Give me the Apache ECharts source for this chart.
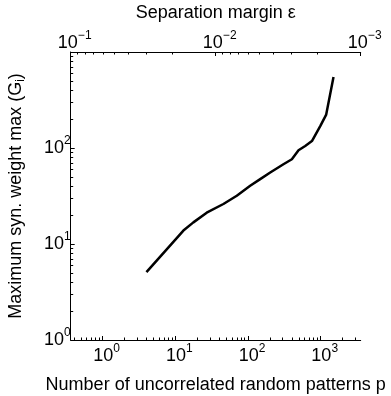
<!DOCTYPE html>
<html><head><meta charset="utf-8">
<script src="https://cdn.jsdelivr.net/npm/echarts@6/dist/echarts.min.js"></script>
<style>html,body{margin:0;padding:0;background:#fff}#c{width:391px;height:396px}</style>
</head><body><div id="c"></div>
<script>
// Data
const pValues = [4, 12.9, 17.7, 27, 45.8, 70, 107, 147, 202, 307, 401, 495, 612, 757, 985, 1190, 1500];
const gMax    = [5.1, 13.8, 16.8, 21.2, 26.1, 31.8, 40.4, 47.4, 55.5, 67.8, 76.4, 94.7, 105, 118, 169, 223, 548];
const xTickLabels = [1, 10, 100, 1000];
const yTickLabels = [1, 10, 100];
const epsTickLabels = [0.1, 0.01, 0.001];
const xRange = [0.363, 3550];
const yRange = [1, 1000];
const epsRange = [0.001, 0.1];

function minorTicks(lo, hi) {
  const out = [];
  for (let e = Math.floor(Math.log10(lo)) ; e <= Math.ceil(Math.log10(hi)); e++) {
    for (let m = 2; m <= 9; m++) {
      const v = m * Math.pow(10, e);
      if (v > lo * 1.0001 && v < hi * 0.9999) out.push(v);
    }
  }
  return out;
}
function expLabel(v) {
  const e = Math.round(Math.log10(v));
  return '{b|10}{s|' + (e < 0 ? '\u2212' + (-e) : e) + '}';
}
const FONT = 'Liberation Sans, Arial, Helvetica, sans-serif';
const richX = {
  b: { fontSize: 18, fontFamily: FONT, color: '#000', padding: [0, 0, 0, 8] },
  s: { fontSize: 12, fontFamily: FONT, color: '#000', padding: [0, 0, 15, 0] }
};
const richY = {
  b: { fontSize: 18, fontFamily: FONT, color: '#000' },
  s: { fontSize: 12, fontFamily: FONT, color: '#000', padding: [0, 0, 15, 0] }
};
const lineStyle = { color: '#000', width: 1 };

const chart = echarts.init(document.getElementById('c'), null, { renderer: 'canvas' });
chart.setOption({
  animation: false,
  backgroundColor: '#fff',
  grid: { left: 70.7, right: 30.3, top: 52, bottom: 56, containLabel: false, outerBoundsMode: 'none' },
  xAxis: [
    { // bottom main axis
      type: 'log', logBase: 10, position: 'bottom', min: xRange[0], max: xRange[1],
      name: 'Number of uncorrelated random patterns p', nameLocation: 'middle', nameGap: 36,
      nameTextStyle: { fontSize: 18, fontFamily: FONT, color: '#000' },
      axisLine: { show: true, onZero: false, lineStyle },
      axisTick: { show: true, inside: true, length: 4, customValues: xTickLabels, lineStyle },
      axisLabel: { show: true, customValues: xTickLabels, margin: 3, formatter: expLabel, rich: richX },
      splitLine: { show: false }
    },
    { // top epsilon axis
      type: 'log', logBase: 10, position: 'top', inverse: true, min: epsRange[0], max: epsRange[1],
      name: 'Separation margin \u03b5', nameLocation: 'middle', nameGap: 30,
      nameTextStyle: { fontSize: 18, fontFamily: FONT, color: '#000' },
      axisLine: { show: true, onZero: false, lineStyle },
      axisTick: { show: true, inside: true, length: 4, customValues: epsTickLabels, lineStyle },
      axisLabel: { show: true, customValues: epsTickLabels, margin: -5, formatter: expLabel, rich: richX },
      splitLine: { show: false }
    },
    { // bottom minor ticks
      type: 'log', logBase: 10, position: 'bottom', min: xRange[0], max: xRange[1],
      axisLine: { show: false, onZero: false },
      axisTick: { show: true, inside: true, length: 2.5, customValues: minorTicks(xRange[0], xRange[1]), lineStyle },
      axisLabel: { show: false }, splitLine: { show: false }
    },
    { // top minor ticks
      type: 'log', logBase: 10, position: 'top', inverse: true, min: epsRange[0], max: epsRange[1],
      axisLine: { show: false, onZero: false },
      axisTick: { show: true, inside: true, length: 2.5, customValues: minorTicks(epsRange[0], epsRange[1]), lineStyle },
      axisLabel: { show: false }, splitLine: { show: false }
    }
  ],
  yAxis: [
    {
      type: 'log', logBase: 10, position: 'left', min: yRange[0], max: yRange[1],
      name: 'Maximum syn. weight max (G{sub|i})', nameLocation: 'middle', nameGap: 44, nameRotate: 90,
      nameTextStyle: { fontSize: 18, fontFamily: FONT, color: '#000',
        rich: { sub: { fontSize: 12, fontFamily: FONT, color: '#000', padding: [10, 0, 0, 0] } } },
      axisLine: { show: true, onZero: false, lineStyle },
      axisTick: { show: true, inside: true, length: 4, customValues: yTickLabels, lineStyle },
      axisLabel: { show: true, customValues: yTickLabels, margin: 0, formatter: expLabel, rich: richY },
      splitLine: { show: false }
    },
    {
      type: 'log', logBase: 10, position: 'left', min: yRange[0], max: yRange[1],
      axisLine: { show: false, onZero: false },
      axisTick: { show: true, inside: true, length: 2.5, customValues: minorTicks(yRange[0], yRange[1]), lineStyle },
      axisLabel: { show: false }, splitLine: { show: false }
    }
  ],
  series: [{
    type: 'line', xAxisIndex: 0, yAxisIndex: 0,
    data: pValues.map((p, i) => [p, gMax[i]]),
    showSymbol: false, symbol: 'none', smooth: false,
    lineStyle: { color: '#000', width: 2.5 },
    itemStyle: { color: '#000' }
  }]
});
</script></body></html>
